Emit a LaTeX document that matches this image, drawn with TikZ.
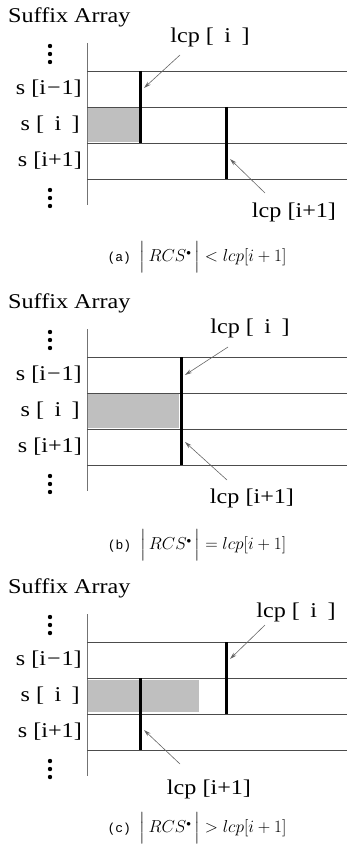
\documentclass[tikz,border=0pt]{standalone}
\usepackage{amsmath}
\usepackage{fontspec}
\setmainfont{Liberation Serif}[FakeStretch=1.15]
\newfontfamily\capfont{Liberation Mono}
\usetikzlibrary{arrows.meta}

% common part of every panel: title, axis, row lines, row labels, dots
\newcommand{\suffixframe}[1]{%
    \node[title] (title#1) at (8,17) {Suffix Array};
    \draw[axis] (87,43) -- (87,205);
    \foreach \y in {71,107,143,179} {
        \draw[rowline] (87,\y) -- (347,\y);
    }
    \node[rowlabel] (prev#1) at (82,89) {s [i\kern1pt−\kern1pt1]};
    \node[rowlabel] (cur#1) at (80,125) {s [\enspace i\enspace]};
    \node[rowlabel] (next#1) at (82,161) {s [i+1]};
    \foreach \y in {46,54,62,190,198,206} {
        \fill (50,\y) circle (2.2pt);
    }
}
% |RCS*| with a relation sign
\newcommand{\rcsrel}[1]{$\Bigl|\,RCS^{\scriptscriptstyle\bullet}\,\Bigr|#1lcp[i+1]$}

\begin{document}
\begin{tikzpicture}[
        x=1pt, y=-1pt,
        % --- Styles ---
        title/.style={font=\fontsize{21}{24}\selectfont, anchor=west, inner sep=0pt},
        rowlabel/.style={font=\fontsize{21}{24}\selectfont, anchor=east, inner sep=0pt},
        lcplabel/.style={font=\fontsize{21}{24}\selectfont, inner sep=0pt},
        caption/.style={font=\fontsize{18}{22}\selectfont, inner sep=0pt},
        rowline/.style={draw=black!70, line width=0.8pt},
        axis/.style={draw=black!55, line width=1pt},
        lcpbar/.style={line width=3pt},
        match/.style={fill=black!25},
        ptr/.style={draw=black!60, line width=0.6pt, -{Stealth[length=7pt, width=4pt]}}
    ]
    \useasboundingbox (0,0) rectangle (347,845);

    % --- (a) ---
    \begin{scope}
        \fill[match] (88,108) rectangle (139,142);
        \suffixframe{a}
        \draw[lcpbar] (140,71) -- (140,143);
        \draw[lcpbar] (226,107) -- (226,179);
        \node[lcplabel] (lcpIa) at (210,37) {lcp [\enspace i\enspace]};
        \node[lcplabel] (lcpNa) at (294,212) {lcp [i+1]};
        \coordinate (tailIa) at (180,55);
        \coordinate (tipIa) at (144,88);
        \coordinate (tailNa) at (265,193);
        \coordinate (tipNa) at (230,159);
        \draw[ptr] (tailIa) -- (tipIa);
        \draw[ptr] (tailNa) -- (tipNa);
        \node[caption] (capa) at (197,257)
            {{\capfont\fontsize{13}{16}\selectfont(a)}\enspace\rcsrel{<}};
    \end{scope}

    % --- (b) ---
    \begin{scope}[shift={(0,286)}]
        \fill[match] (88,108) rectangle (179,142);
        \suffixframe{b}
        \draw[lcpbar] (181,71) -- (181,179);
        \node[lcplabel] (lcpIb) at (250,42) {lcp [\enspace i\enspace]};
        \node[lcplabel] (lcpNb) at (252,212) {lcp [i+1]};
        \coordinate (tailIb) at (228,61);
        \coordinate (tipIb) at (185,89);
        \coordinate (tailNb) at (227,194);
        \coordinate (tipNb) at (185,156);
        \draw[ptr] (tailIb) -- (tipIb);
        \draw[ptr] (tailNb) -- (tipNb);
        \node[caption] (capb) at (197,259)
            {{\capfont\fontsize{13}{16}\selectfont(b)}\enspace\rcsrel{=}};
    \end{scope}

    % --- (c) ---
    \begin{scope}[shift={(0,571)}]
        \fill[match] (88,109) rectangle (199,141);
        \suffixframe{c}
        \draw[lcpbar] (226,71) -- (226,143);
        \draw[lcpbar] (140,107) -- (140,179);
        \node[lcplabel] (lcpIc) at (296,41) {lcp [\enspace i\enspace]};
        \node[lcplabel] (lcpNc) at (209,218) {lcp [i+1]};
        \coordinate (tailIc) at (265,54);
        \coordinate (tipIc) at (230,88);
        \coordinate (tailNc) at (180,193);
        \coordinate (tipNc) at (144,159);
        \draw[ptr] (tailIc) -- (tipIc);
        \draw[ptr] (tailNc) -- (tipNc);
        \node[caption] (capc) at (197,257)
            {{\capfont\fontsize{13}{16}\selectfont(c)}\enspace\rcsrel{>}};
    \end{scope}

\end{tikzpicture}
\end{document}
